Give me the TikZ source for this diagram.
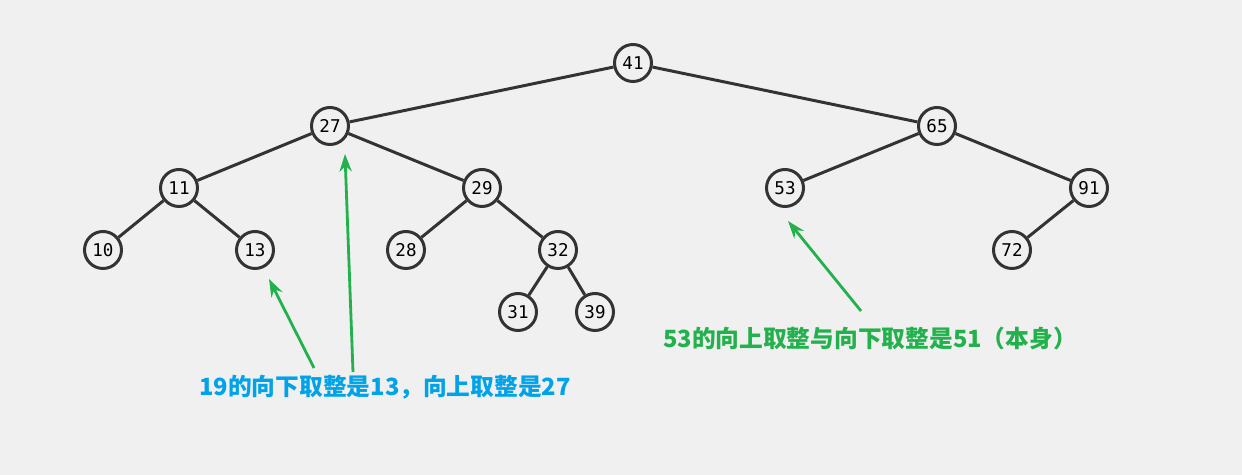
\documentclass[tikz,border=0pt]{standalone}
\usepackage{fontspec}
\newfontfamily\cjk{Noto Sans CJK SC}
\setmonofont{DejaVu Sans Mono}
\usetikzlibrary{arrows.meta, positioning}
\definecolor{bggray}{RGB}{240, 240, 240}
\definecolor{edgegray}{RGB}{51, 51, 51}
\definecolor{notegreen}{RGB}{34, 177, 76}
\definecolor{noteblue}{RGB}{0, 162, 232}

\begin{document}
\begin{tikzpicture}[x=0.02cm, y=-0.02cm,
  treenode/.style={circle, draw=edgegray, line width=1.7pt, fill=bggray,
    minimum size=0.74cm, inner sep=0pt, font=\ttfamily\fontsize{10}{10}\selectfont},
  treeedge/.style={edgegray, line width=1.7pt},
  notearrow/.style={-{Stealth[length=10pt, width=7pt]}, notegreen, line width=1.6pt},
  notetext/.style={font=\cjk\bfseries\fontsize{13.5}{15}\selectfont}]
  % Background
  \fill[bggray] (0, 0) rectangle (1242, 475);

  % Tree nodes
  \foreach \name/\x/\y in {41/633/63, 27/330/126, 65/937/126, 11/179/188, 29/482/188,
      53/785/188, 91/1089/188, 10/103/250, 13/255/250, 28/406/250, 32/558/250,
      72/1012/250, 31/518/312, 39/595/312} {
    \node[treenode] (n\name) at (\x, \y) {\name};
  }

  % Edges
  \foreach \a/\b in {41/27, 41/65, 27/11, 27/29, 11/10, 11/13, 29/28, 29/32,
      32/31, 32/39, 65/53, 65/91, 91/72} {
    \draw[treeedge] (n\a) -- (n\b);
  }

  % Left note
  \node[notetext, noteblue] (floorceil) at (385, 387) {19的向下取整是13，向上取整是27};
  \coordinate (tipfloor) at (269, 279);
  \coordinate (tipceil) at (345, 154);
  \coordinate (tailfloor) at (314, 368);
  \coordinate (tailceil) at (353, 372);
  \draw[notearrow] (tailfloor) -- (tipfloor);
  \draw[notearrow] (tailceil) -- (tipceil);

  % Right note
  \node[notetext, notegreen] (itself) at (870, 338) {53的向上取整与向下取整是51（本身）};
  \coordinate (tipself) at (788, 221);
  \coordinate (tailself) at (861, 311);
  \draw[notearrow] (tailself) -- (tipself);
\end{tikzpicture}
\end{document}
